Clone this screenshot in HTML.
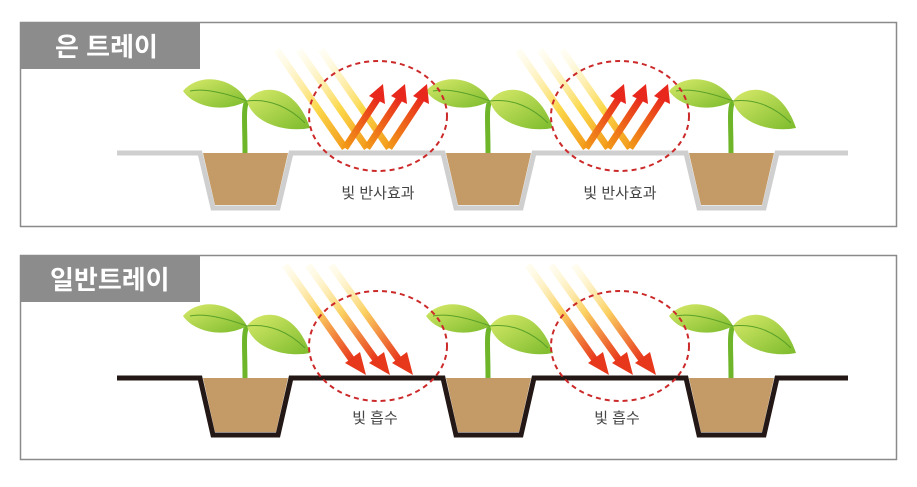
<!DOCTYPE html>
<html><head><meta charset="utf-8"><style>
body{margin:0;background:#fff;width:917px;height:482px;overflow:hidden}
text{font-family:"Liberation Sans","Noto Sans CJK KR",sans-serif}
</style></head><body>
<svg width="917" height="482" viewBox="0 0 917 482" xmlns="http://www.w3.org/2000/svg">
<defs>
<linearGradient id="lf" x1="0" y1="0" x2="1" y2="1"><stop offset="0" stop-color="#d8ea6a"/><stop offset="1" stop-color="#7cbb2c"/></linearGradient>
<linearGradient id="ry" x1="0" y1="0" x2="1" y2="1"><stop offset="0" stop-color="#fffbe0" stop-opacity="0.3"/><stop offset="0.6" stop-color="#fbd84a"/><stop offset="1" stop-color="#f39a1a"/></linearGradient>
<linearGradient id="up" x1="0" y1="1" x2="1" y2="0"><stop offset="0" stop-color="#f29a18"/><stop offset="1" stop-color="#e8281c"/></linearGradient>
<linearGradient id="dn" x1="0" y1="0" x2="1" y2="1"><stop offset="0" stop-color="#fff6c0" stop-opacity="0.2"/><stop offset="0.5" stop-color="#fbd060"/><stop offset="1" stop-color="#e8381c"/></linearGradient>
<g id="plant">
<path d="M0,70 C0,40 -2,25 2,18" stroke="#6fb52a" stroke-width="5" fill="none"/>
<path d="M2,18 C-10,-5 -45,-12 -62,8 C-50,25 -20,30 2,18Z" fill="url(#lf)"/>
<path d="M2,18 C15,0 50,0 65,45 C40,50 8,40 2,18Z" fill="url(#lf)"/>
<path d="M2,18 C-20,10 -40,5 -55,8 M2,18 C25,15 45,25 60,40" stroke="#5aa028" stroke-width="1" fill="none"/>
</g>
</defs>
<!-- panel 1 -->
<rect x="20.5" y="22.5" width="876" height="204" fill="#fff" stroke="#8a8a8a" stroke-width="1.5"/>
<rect x="20" y="22" width="180" height="47" fill="#8c8c8c"/>
<text x="55" y="56" font-size="26" font-weight="bold" fill="#fff">은 트레이</text>
<g fill="#c49a66">
<path d="M203,153 L288,153 L276,205 L215,205Z"/><path d="M446,153 L531,153 L519,205 L458,205Z"/><path d="M689,153 L774,153 L762,205 L701,205Z"/>
</g>
<path d="M117,153 L200,153 L213,208 L278,208 L291,153 L443,153 L456,208 L521,208 L534,153 L686,153 L699,208 L764,208 L777,153 L848,153" stroke="#cfcfcf" stroke-width="5" fill="none"/>
<use href="#plant" x="245" y="83"/><use href="#plant" x="488" y="83"/><use href="#plant" x="731" y="83"/>
<g fill="none" stroke-width="7" stroke-linecap="butt">
<path d="M277,50 L345,148" stroke="url(#ry)"/><path d="M299,50 L367,148" stroke="url(#ry)"/><path d="M321,50 L389,148" stroke="url(#ry)"/>
<path d="M345,148 L378,98" stroke="url(#up)"/><path d="M367,148 L400,98" stroke="url(#up)"/><path d="M389,148 L422,98" stroke="url(#up)"/>
<path d="M518,50 L586,148" stroke="url(#ry)"/><path d="M540,50 L608,148" stroke="url(#ry)"/><path d="M562,50 L630,148" stroke="url(#ry)"/>
<path d="M586,148 L619,98" stroke="url(#up)"/><path d="M608,148 L641,98" stroke="url(#up)"/><path d="M630,148 L663,98" stroke="url(#up)"/>
</g>
<g fill="#e8281c">
<path d="M383,84 L369,96 L385,104Z"/><path d="M405,84 L391,96 L407,104Z"/><path d="M427,84 L413,96 L429,104Z"/>
<path d="M624,84 L610,96 L626,104Z"/><path d="M646,84 L632,96 L648,104Z"/><path d="M668,84 L654,96 L670,104Z"/>
</g>
<g fill="none" stroke="#cc2a2a" stroke-width="2" stroke-dasharray="5,4">
<ellipse cx="378" cy="116" rx="69" ry="55"/><ellipse cx="620" cy="116" rx="69" ry="55"/>
</g>
<text x="378" y="198" font-size="15" fill="#444" text-anchor="middle">빛 반사효과</text>
<text x="620" y="198" font-size="15" fill="#444" text-anchor="middle">빛 반사효과</text>
<!-- panel 2 -->
<rect x="20.5" y="255.5" width="876" height="204" fill="#fff" stroke="#8a8a8a" stroke-width="1.5"/>
<rect x="20" y="255" width="180" height="47" fill="#8c8c8c"/>
<text x="50" y="289" font-size="26" font-weight="bold" fill="#fff">일반트레이</text>
<g fill="#c49a66">
<path d="M203,378 L288,378 L276,432 L215,432Z"/><path d="M446,378 L531,378 L519,432 L458,432Z"/><path d="M689,378 L774,378 L762,432 L701,432Z"/>
</g>
<path d="M117,378 L200,378 L213,435 L278,435 L291,378 L443,378 L456,435 L521,435 L534,378 L686,378 L699,435 L764,435 L777,378 L848,378" stroke="#231815" stroke-width="5" fill="none"/>
<use href="#plant" x="245" y="308"/><use href="#plant" x="488" y="308"/><use href="#plant" x="731" y="308"/>
<g fill="none" stroke="url(#dn)" stroke-width="7">
<path d="M285,265 L352,360"/><path d="M308,265 L376,360"/><path d="M331,265 L399,360"/>
<path d="M528,265 L595,360"/><path d="M551,265 L619,360"/><path d="M574,265 L642,360"/>
</g>
<g fill="#e8381c">
<path d="M366,375 L345,363 L360,352Z"/><path d="M390,375 L369,363 L384,352Z"/><path d="M413,375 L392,363 L407,352Z"/>
<path d="M609,375 L588,363 L603,352Z"/><path d="M633,375 L612,363 L627,352Z"/><path d="M656,375 L635,363 L650,352Z"/>
</g>
<g fill="none" stroke="#cc2a2a" stroke-width="2" stroke-dasharray="5,4">
<ellipse cx="378" cy="346" rx="69" ry="55"/><ellipse cx="620" cy="346" rx="69" ry="55"/>
</g>
<text x="375" y="423" font-size="15" fill="#444" text-anchor="middle">빛 흡수</text>
<text x="617" y="423" font-size="15" fill="#444" text-anchor="middle">빛 흡수</text>
</svg>
</body></html>
